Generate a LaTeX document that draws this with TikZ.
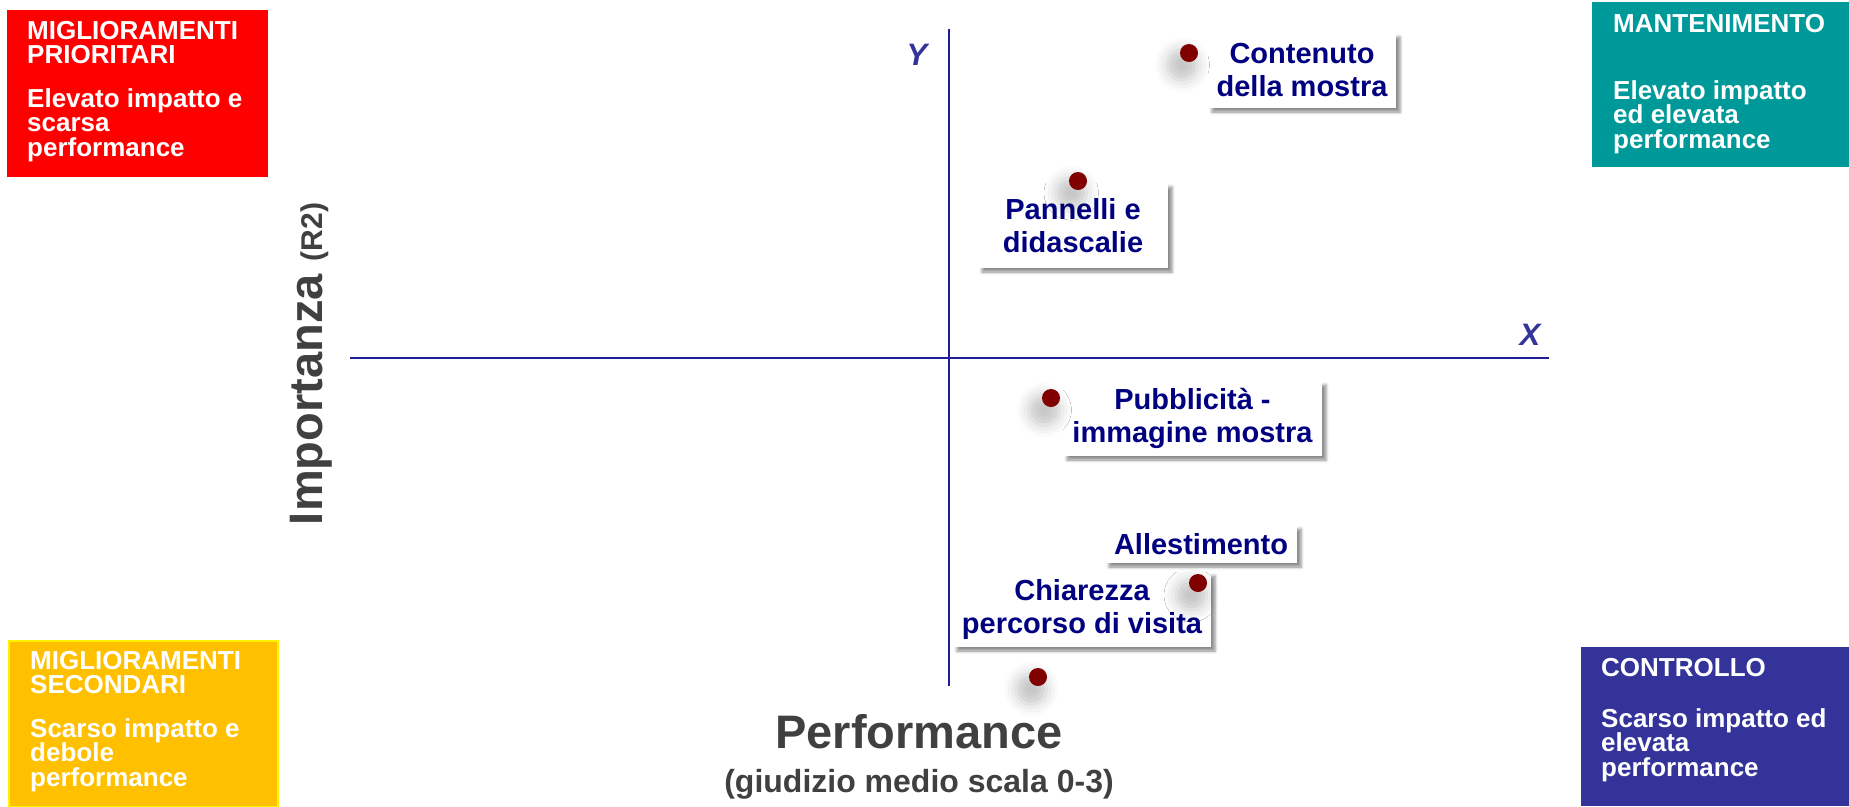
\documentclass[tikz,border=0pt]{standalone}
\usepackage{fontspec}
\setmainfont{Liberation Sans}
\usetikzlibrary{calc,shadows.blur}
\definecolor{prioRed}{RGB}{255,0,0}
\definecolor{mantTeal}{RGB}{0,153,153}
\definecolor{secYellow}{RGB}{255,192,0}
\definecolor{ctrlBlue}{RGB}{51,51,153}
\definecolor{axisBlue}{RGB}{30,30,150}
\definecolor{lblNavy}{RGB}{0,0,128}
\definecolor{dotRed}{RGB}{128,0,0}
\definecolor{titleGray}{RGB}{64,64,64}

\begin{document}
\begin{tikzpicture}[x=1pt,y=-1pt,
  quad/.style={anchor=base west,align=left,text=white,inner sep=0pt,
    font=\bfseries\fontsize{26}{24.5}\selectfont},
  lbl/.style={fill=white,text=lblNavy,align=center,inner sep=0pt,
    font=\bfseries\fontsize{29}{33}\selectfont,
    blur shadow={shadow xshift=4pt,shadow yshift=-4pt,shadow blur radius=3pt,shadow opacity=45}},
  pt/.style={circle,fill=dotRed,minimum size=18pt,inner sep=0pt,
    blur shadow={shadow xshift=-4pt,shadow yshift=-7pt,shadow scale=1.7,shadow blur radius=7pt,shadow opacity=22}},
  axlbl/.style={text=ctrlBlue,font=\bfseries\itshape\fontsize{31}{31}\selectfont},
  axtitle/.style={text=titleGray,anchor=base}]
  \useasboundingbox (0,0) rectangle (1849,806);
  \fill[prioRed] (7,10) rectangle (268,177);
  \fill[mantTeal] (1592,2) rectangle (1849,167);
  \filldraw[fill=secYellow,draw=yellow,line width=1.5pt] (9,641) rectangle (278,807);
  \fill[ctrlBlue] (1581,647) rectangle (1849,806);
  \node[quad] (prio) at (27,156) {MIGLIORAMENTI\\PRIORITARI\\[19pt]Elevato impatto e\\scarsa\\performance};
  \node[quad] (mant) at (1613,148) {MANTENIMENTO\\[42pt]Elevato impatto\\ed elevata\\performance};
  \node[quad] (sec) at (30,786) {MIGLIORAMENTI\\SECONDARI\\[19pt]Scarso impatto e\\debole\\performance};
  \node[quad] (ctrl) at (1601,776) {CONTROLLO\\[26pt]Scarso impatto ed\\elevata\\performance};
  \coordinate (yTop) at (949,29);
  \coordinate (yBot) at (949,686);
  \coordinate (xL) at (350,358);
  \coordinate (xR) at (1549,358);
  \draw[axisBlue,line width=1.6pt] (yTop) -- (yBot);
  \draw[axisBlue,line width=1.6pt] (xL) -- (xR);
  \node[axlbl] (ylab) at (917,55) {Y};
  \node[axlbl] (xlab) at (1530,335) {X};
  \node[axtitle,rotate=90,font=\bfseries\fontsize{47}{47}\selectfont] (imp) at (322,364) {Importanza {\fontsize{30}{30}\selectfont(R2)}};
  \node[axtitle,font=\bfseries\fontsize{47}{47}\selectfont] (perf) at (919,748) {Performance};
  \node[axtitle,font=\bfseries\fontsize{32}{32}\selectfont] (giud) at (919,792) {(giudizio medio scala 0-3)};
  \node[lbl,minimum width=188,minimum height=75] (contenuto) at (1302,70.5) {Contenuto\\della mostra};
  \node[lbl,minimum width=190,minimum height=85] (pannelli) at (1073,225.5) {Pannelli e\\didascalie};
  \node[lbl,minimum width=259,minimum height=75] (pubblicita) at (1192.5,418.5) {Pubblicità -\\immagine mostra};
  \node[lbl,minimum width=192,minimum height=38] (allestimento) at (1201,544) {Allestimento};
  \node[lbl,minimum width=258,minimum height=75] (chiarezza) at (1082,609.5) {Chiarezza\\percorso di visita};
  \node[pt] (pContenuto) at (1189,53) {};
  \node[pt] (pPannelli) at (1078,181) {};
  \node[pt] (pPubblicita) at (1051,398) {};
  \node[pt] (pAllestimento) at (1198,583) {};
  \node[pt] (pChiarezza) at (1038,677) {};
\end{tikzpicture}
\end{document}
